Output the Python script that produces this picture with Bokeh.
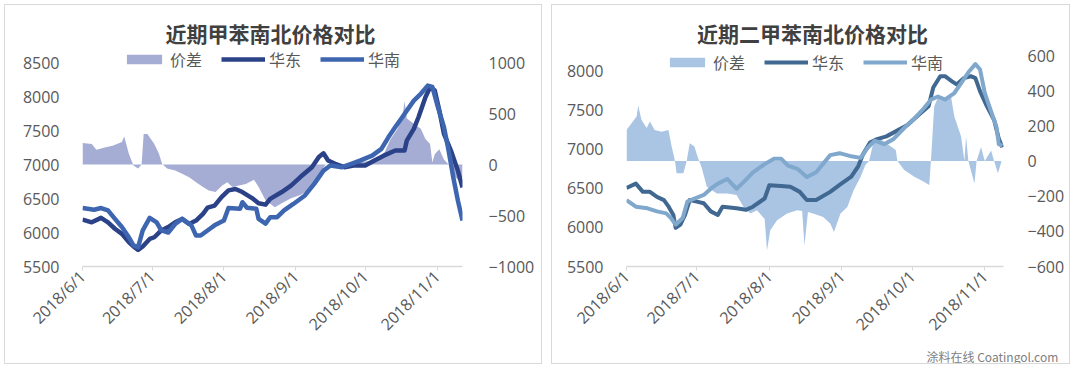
import pandas as pd
from math import pi
from bokeh.plotting import figure
from bokeh.models import (Range1d, LinearAxis, FixedTicker, Legend, LegendItem,
                          Label, Title, CustomJSTickFormatter, Spacer)
from bokeh.layouts import row, column
from bokeh.embed import file_html
from bokeh.resources import INLINE

# ---------------- data ----------------
START = "2018-06-01"
MONTH_TICKS = ["2018-06-01", "2018-07-01", "2018-08-01", "2018-09-01", "2018-10-01", "2018-11-01"]

# Toluene (甲苯) -- days since 2018-06-01
L_DAYS_EAST = [0,4,8,11,14,17,20,22,24,26,29,31,34,37,40,43,46,49,52,54,57,60,63,66,69,73,76,79,81,86,
               90,94,99,102,104,106,109,113,117,122,126,130,135,139,140,143,145,148,150,152,154,156,159,162,164]
L_EAST = [6190,6150,6215,6150,6055,5980,5860,5795,5745,5795,5905,5930,6030,6080,6150,6200,6125,6175,6275,6365,
          6395,6520,6620,6640,6595,6510,6430,6410,6495,6595,6690,6815,6960,7110,7165,7060,7010,6960,6985,6985,
          7060,7130,7205,7205,7355,7525,7695,7990,8135,8090,7795,7450,7205,6910,6665]
L_DAYS_SOUTH = [0,5,8,11,14,17,20,22,24,26,29,32,34,37,40,43,47,49,51,55,57,61,63,68,69,71,75,76,79,81,
                84,87,91,96,100,104,107,112,116,120,125,129,132,135,138,140,143,146,149,151,153,156,158,160,162,164]
L_SOUTH = [6360,6335,6360,6325,6200,6080,5930,5810,5785,6030,6215,6150,6030,6000,6125,6200,6105,5955,5955,6055,
           6105,6175,6360,6350,6445,6365,6350,6200,6130,6225,6225,6325,6420,6545,6715,6910,6985,6960,7010,7060,
           7130,7230,7400,7550,7695,7795,7940,8040,8160,8140,7890,7550,7205,6815,6470,6175]
L_DAYS_DIFF = [0,4,6,10,13,17,18,20,22,24,25.5,26.4,28,31,33,34.4,36.5,40,43,46,49,52,54.5,57.4,60.3,62.5,64.7,
               67.5,70.5,74,76,79,83,86,90,94,97,100,103,105,110,114,118,122,126,130,133,136,138,139,140,143,146,
               148,150,151,152,154,156,158,160,162,164]
L_DIFF = [210,200,145,170,185,220,275,105,-10,-40,0,300,300,200,105,5,-40,-60,-90,-125,-175,-220,-255,-270,-205,
          -175,-220,-205,-190,-150,-220,-350,-420,-380,-330,-300,-260,-200,-60,0,-20,-40,20,30,40,100,250,350,450,
          620,450,400,350,250,200,20,100,150,50,0,-100,-150,-120]

# Xylene (二甲苯)
R_DAYS_EAST = [0,4,7,10,13,16,18,20,21,23,25,27,30,33,36,39,41,44,47,51,54,59,61,66,70,74,77,81,87,91,
               96,99,101,104,107,111,116,120,124,129,131,134,136,139,141,144,147,149,151,154,157,159,160.5]
R_EAST = [6505,6560,6455,6455,6390,6350,6265,6160,5995,6035,6160,6350,6330,6310,6205,6160,6265,6255,6245,6225,
          6265,6370,6540,6530,6520,6455,6350,6350,6455,6545,6650,6785,6935,7085,7130,7165,7245,7310,7420,7550,
          7790,7935,7935,7870,7830,7910,7935,7910,7740,7545,7375,7135,7025]
R_DAYS_SOUTH = [0,4,9,13,17,19,21,24,26,29,33,36,39,43,47,50,54,59,63,66,69,73,77,81,87,91,96,100,103,106,
                110,114,119,123,127,130,133,136,140,143,146,149,151,153,156,158,159,160.5]
R_SOUTH = [6350,6265,6245,6205,6180,6120,6035,6120,6330,6370,6415,6495,6560,6620,6495,6580,6705,6810,6880,6880,
           6790,6750,6645,6705,6925,6950,6910,6890,7020,7110,7065,7130,7285,7395,7525,7635,7675,7635,7720,7850,
           7985,8090,8020,7720,7460,7285,7065,7045]
R_DAYS_DIFF = [0,4.3,5,6.4,8.6,10,12,15,17.9,19.3,20.7,21.4,24.3,25.7,27,29,30.5,32,34.3,38.6,43,47,50,52.9,55.7,
               59,60,61.4,64.3,68.6,72.9,75,76,77.5,80,84,87,88.6,91.4,94.3,97,100,102,103.6,105.7,108,112.9,115,
               115.7,118.6,122.9,127,129.3,130,131.4,132.9,135.7,138.6,140,142.9,144.3,145,146,148.6,149.5,151.4,
               153,155.7,157,158.6,160]
R_DIFF = [177,253,314,234,187,225,177,167,177,82,0,-70,-70,0,101,82,19,-32,-147,-185,-185,-194,-261,-299,-280,
          -330,-509,-394,-337,-299,-280,-285,-480,-290,-300,-318,-356,-404,-299,-261,-166,-90,-23,0,120,130,82,63,
          0,-51,-90,-118,-137,0,310,358,339,367,253,139,0,139,0,-128,0,80,0,60,0,-70,-10]

LEFT_TICKS_Y = [5500, 6000, 6500, 7000, 7500, 8000, 8500]
LEFT_TICKS_DIFF = [-1000, -500, 0, 500, 1000]
RIGHT_TICKS_Y = [5500, 6000, 6500, 7000, 7500, 8000]
RIGHT_TICKS_DIFF = [-600, -400, -200, 0, 200, 400, 600]

TITLES = ["近期甲苯南北价格对比", "近期二甲苯南北价格对比"]
LABELS = ["价差", "华东", "华南"]
WATERMARK = "涂料在线 Coatingol.com"

# ---------------- helpers ----------------
BASE = pd.Timestamp(START)


def dates(days):
    return [BASE + pd.Timedelta(days=d) for d in days]


def ms(ts):
    return pd.Timestamp(ts).value // 10**6


TICK_FMT = CustomJSTickFormatter(code="""
    const d = new Date(tick);
    return d.getUTCFullYear() + "/" + (d.getUTCMonth() + 1) + "/" + d.getUTCDate();
""")

LABEL_COLOR = "#595959"
NUM_FONT = "Open Sans"
CJK_FONT = "Noto Sans CJK SC"

FIG_H = 360
TOP_B = 4
FRAME_H = 257       # frame reaches near the top; y axes have no lines, so only tick labels show
BOTTOM_B = FIG_H - TOP_B - FRAME_H


def extend(lo, hi, axis_px):
    # value range so that [lo, hi] spans axis_px pixels at the bottom of the frame
    return (lo, lo + (hi - lo) * FRAME_H / axis_px)


def make_chart(width, mb_left, mb_right, end_day, yr, dr, axis_px, yt, dt,
               d_east, v_east, d_south, v_south, d_diff, v_diff, colors, title,
               title_xy, legend_xy, left_standoff, right_standoff, lw):
    p = figure(width=width, height=FIG_H, x_axis_type="datetime", title=None,
               x_range=Range1d(ms(BASE), ms(BASE + pd.Timedelta(days=end_day))),
               y_range=Range1d(*extend(yr[0], yr[1], axis_px)),
               output_backend="svg", toolbar_location=None,
               min_border_left=mb_left, min_border_right=mb_right, min_border_top=TOP_B,
               min_border_bottom=BOTTOM_B)
    p.extra_y_ranges = {"diff": Range1d(*extend(dr[0], dr[1], axis_px))}
    p.outline_line_color = None
    p.background_fill_color = "white"
    p.border_fill_color = "white"
    p.xgrid.visible = False
    p.ygrid.visible = False
    p.styles = {"border": "1px solid #D9D9D9"}

    area = p.varea(x=dates(d_diff), y1=0, y2=v_diff, y_range_name="diff",
                   fill_color=colors[0], fill_alpha=1.0)
    le = p.line(dates(d_east), v_east, line_color=colors[1], line_width=lw, line_join="round")
    ls = p.line(dates(d_south), v_south, line_color=colors[2], line_width=lw, line_join="round")

    xa = p.xaxis[0]
    xa.ticker = FixedTicker(ticks=[ms(t) for t in MONTH_TICKS])
    xa.formatter = TICK_FMT
    xa.major_label_orientation = pi / 4
    xa.axis_line_color = "#D9D9D9"
    xa.axis_line_width = 1.5
    xa.major_tick_line_color = "#D9D9D9"
    xa.major_tick_out = 4
    xa.major_tick_in = 0
    xa.minor_tick_line_color = None
    xa.major_label_text_font = NUM_FONT
    xa.major_label_text_font_size = "16px"
    xa.major_label_text_color = LABEL_COLOR
    xa.major_label_standoff = 3

    ya = p.yaxis[0]
    ya.ticker = FixedTicker(ticks=yt)
    ya.axis_line_color = None
    ya.major_tick_line_color = None
    ya.minor_tick_line_color = None
    ya.major_label_text_font = NUM_FONT
    ya.major_label_text_font_size = "16px"
    ya.major_label_text_color = LABEL_COLOR
    ya.major_label_standoff = left_standoff

    ra = LinearAxis(y_range_name="diff", ticker=FixedTicker(ticks=dt))
    ra.axis_line_color = None
    ra.major_tick_line_color = None
    ra.minor_tick_line_color = None
    ra.major_label_text_font = NUM_FONT
    ra.major_label_text_font_size = "16px"
    ra.major_label_text_color = LABEL_COLOR
    ra.major_label_standoff = right_standoff
    p.add_layout(ra, "right")

    legend = Legend(items=[LegendItem(label=LABELS[0], renderers=[area]),
                           LegendItem(label=LABELS[1], renderers=[le]),
                           LegendItem(label=LABELS[2], renderers=[ls])],
                    location=legend_xy, orientation="horizontal",
                    background_fill_alpha=0, border_line_alpha=0,
                    label_text_font=CJK_FONT, label_text_font_size="16px",
                    label_text_color=LABEL_COLOR, glyph_width=44, glyph_height=12,
                    label_height=20, label_standoff=4, spacing=19, padding=0, margin=0)
    p.add_layout(legend)

    p.add_layout(Label(x=title_xy[0], y=title_xy[1], x_units="screen", y_units="screen",
                       text=title, text_align="center", text_baseline="middle",
                       text_font=CJK_FONT, text_font_style="bold", text_font_size="21px",
                       text_color="#404040"))
    return p


p1 = make_chart(538, 77, 81, 164, (5500, 8500), (-1000, 1000), 204,
                LEFT_TICKS_Y, LEFT_TICKS_DIFF, L_DAYS_EAST, L_EAST, L_DAYS_SOUTH, L_SOUTH,
                L_DAYS_DIFF, L_DIFF, ["#A6ADD4", "#2B4289", "#3E66B0"], TITLES[0],
                (188, 234), (40, 195), 17, 20, 4.5)

p2 = make_chart(519, 74, 68, 161, (5500, 8200), (-600, 600), 211,
                RIGHT_TICKS_Y, RIGHT_TICKS_DIFF, R_DAYS_EAST, R_EAST, R_DAYS_SOUTH, R_SOUTH,
                R_DAYS_DIFF, R_DIFF, ["#AAC5E4", "#406891", "#80A8CD"], TITLES[1],
                (186, 234), (39, 192), 17, 18, 4)

p2.add_layout(Title(text=WATERMARK, align="left", offset=300, standoff=0,
                    text_font=CJK_FONT, text_font_size="12px", text_font_style="normal",
                    text_color="#808080"), "below")

layout = column(Spacer(height=4),
                row(Spacer(width=4), p1, Spacer(width=9), p2))
open("out.html", "w").write(file_html(layout, INLINE))
